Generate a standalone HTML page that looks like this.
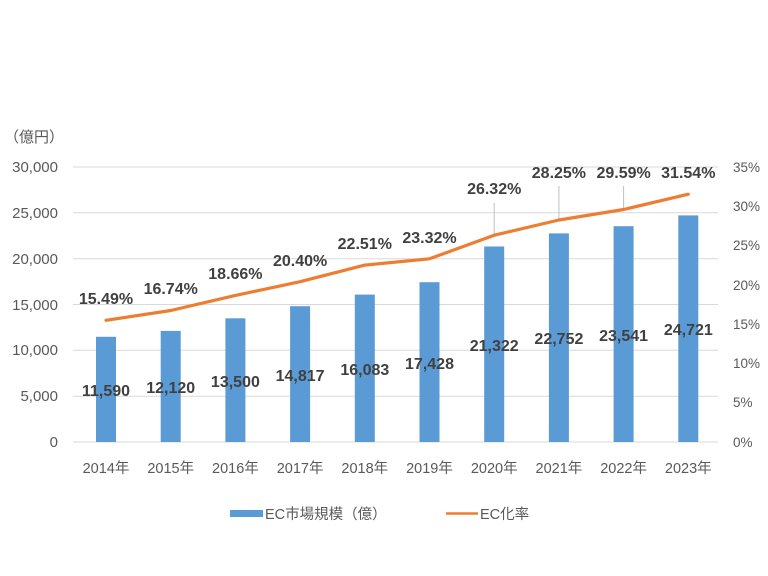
<!DOCTYPE html>
<html><head><meta charset="utf-8"><style>
html,body{margin:0;padding:0;background:#fff;}
svg{display:block;font-family:"Liberation Sans","Noto Sans CJK JP",sans-serif;}
</style></head><body>
<svg width="768" height="576" viewBox="0 0 768 576" xmlns="http://www.w3.org/2000/svg">
<rect width="768" height="576" fill="#fff"/>
<g stroke="#d9d9d9" stroke-width="1">
<line x1="73" y1="167" x2="718" y2="167"/>
<line x1="73" y1="212.8" x2="718" y2="212.8"/>
<line x1="73" y1="258.7" x2="718" y2="258.7"/>
<line x1="73" y1="304.5" x2="718" y2="304.5"/>
<line x1="73" y1="350.3" x2="718" y2="350.3"/>
<line x1="73" y1="396.2" x2="718" y2="396.2"/>
<line x1="73" y1="442" x2="718" y2="442"/>
</g>
<g fill="#595959" font-size="15" text-anchor="end">
<text x="58" y="172">30,000</text>
<text x="58" y="218">25,000</text>
<text x="58" y="264">20,000</text>
<text x="58" y="310">15,000</text>
<text x="58" y="355">10,000</text>
<text x="58" y="401">5,000</text>
<text x="58" y="447">0</text>
</g>
<text x="4" y="142" fill="#595959" font-size="15">（億円）</text>
<g fill="#595959" font-size="13.5" text-anchor="start">
<text x="733" y="172">35%</text>
<text x="733" y="211">30%</text>
<text x="733" y="250">25%</text>
<text x="733" y="290">20%</text>
<text x="733" y="329">15%</text>
<text x="733" y="368">10%</text>
<text x="733" y="407">5%</text>
<text x="733" y="447">0%</text>
</g>
<g fill="#5b9bd5">
<rect x="96" y="336.8" width="20" height="105.2"/>
<rect x="160.7" y="330.9" width="20" height="111.1"/>
<rect x="225.4" y="318.3" width="20" height="123.7"/>
<rect x="290.1" y="306.2" width="20" height="135.8"/>
<rect x="354.8" y="294.6" width="20" height="147.4"/>
<rect x="419.5" y="282.2" width="20" height="159.8"/>
<rect x="484.2" y="246.5" width="20" height="195.5"/>
<rect x="548.9" y="233.4" width="20" height="208.6"/>
<rect x="613.6" y="226.2" width="20" height="215.8"/>
<rect x="678.3" y="215.4" width="20" height="226.6"/>
</g>
<g stroke="#bfbfbf" stroke-width="1">
<line x1="494.2" y1="203" x2="494.2" y2="234"/>
<line x1="558.9" y1="186" x2="558.9" y2="219"/>
<line x1="623.6" y1="186" x2="623.6" y2="208"/>
</g>
<polyline fill="none" stroke="#ed7d31" stroke-width="3.2" stroke-linejoin="round" stroke-linecap="round"
points="106,320.3 170.7,310.5 235.4,295.4 300.1,281.7 364.8,265.1 429.5,258.8 494.2,235.2 558.9,220 623.6,209.5 688.3,194.2"/>
<g fill="#404040" font-size="16" font-weight="bold" text-anchor="middle">
<text x="106" y="304">15.49%</text>
<text x="170.7" y="294">16.74%</text>
<text x="235.4" y="279">18.66%</text>
<text x="300.1" y="266">20.40%</text>
<text x="364.8" y="249">22.51%</text>
<text x="429.5" y="243">23.32%</text>
<text x="494.2" y="194">26.32%</text>
<text x="558.9" y="178">28.25%</text>
<text x="623.6" y="178">29.59%</text>
<text x="688.3" y="178">31.54%</text>
<text x="106" y="396">11,590</text>
<text x="170.7" y="393">12,120</text>
<text x="235.4" y="387">13,500</text>
<text x="300.1" y="381">14,817</text>
<text x="364.8" y="375">16,083</text>
<text x="429.5" y="369">17,428</text>
<text x="494.2" y="351">21,322</text>
<text x="558.9" y="344">22,752</text>
<text x="623.6" y="341">23,541</text>
<text x="688.3" y="335">24,721</text>
</g>
<g fill="#595959" font-size="14.5" text-anchor="middle">
<text x="106" y="473">2014年</text>
<text x="170.7" y="473">2015年</text>
<text x="235.4" y="473">2016年</text>
<text x="300.1" y="473">2017年</text>
<text x="364.8" y="473">2018年</text>
<text x="429.5" y="473">2019年</text>
<text x="494.2" y="473">2020年</text>
<text x="558.9" y="473">2021年</text>
<text x="623.6" y="473">2022年</text>
<text x="688.3" y="473">2023年</text>
</g>
<rect x="230" y="510" width="33" height="7" fill="#5b9bd5"/>
<text x="265" y="519" fill="#595959" font-size="14.5">EC市場規模（億）</text>
<line x1="446" y1="513.5" x2="478" y2="513.5" stroke="#ed7d31" stroke-width="2.5"/>
<text x="480" y="519" fill="#595959" font-size="14.5">EC化率</text>
</svg>
</body></html>
